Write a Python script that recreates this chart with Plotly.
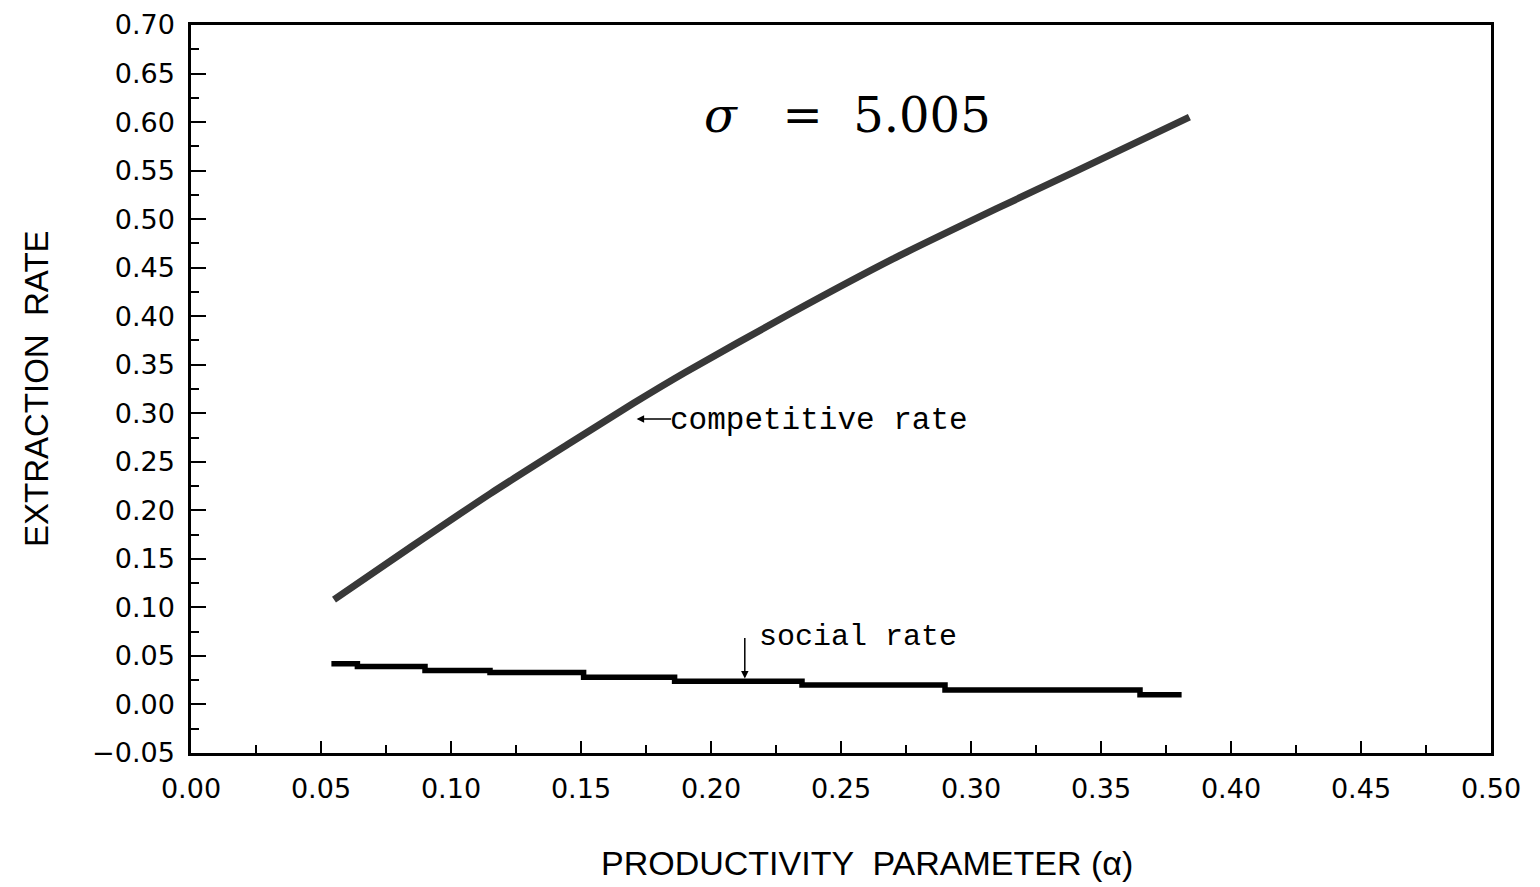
import plotly.graph_objects as go

# Competitive extraction rate
comp_alpha = [0.055, 0.085, 0.115, 0.145, 0.170, 0.190, 0.230, 0.270, 0.310, 0.340, 0.384]
comp_rate = [0.108, 0.163, 0.217, 0.268, 0.310, 0.342, 0.402, 0.459, 0.511, 0.549, 0.605]

# Social extraction rate (stepped)
social_alpha = [0.054, 0.064, 0.090, 0.115, 0.151, 0.186, 0.235, 0.290, 0.365, 0.381]
social_rate = [0.042, 0.039, 0.035, 0.033, 0.028, 0.024, 0.020, 0.015, 0.010, 0.010]

x_ticks = [0.00, 0.05, 0.10, 0.15, 0.20, 0.25, 0.30, 0.35, 0.40, 0.45, 0.50]
y_ticks = [-0.05, 0.00, 0.05, 0.10, 0.15, 0.20, 0.25, 0.30, 0.35, 0.40, 0.45, 0.50, 0.55, 0.60, 0.65, 0.70]

W, H = 1540, 887
OFF = 7  # page body offset
L, R, T, B = 190 - OFF, W - 1490 + OFF, 24 - OFF, H - 752 + OFF
pw, ph = W - L - R, H - T - B

fig = go.Figure()
fig.add_trace(go.Scatter(x=comp_alpha, y=comp_rate, mode="lines",
                         line=dict(color="#383838", width=7, shape="spline", smoothing=0.6),
                         showlegend=False, hoverinfo="skip"))
fig.add_trace(go.Scatter(x=social_alpha, y=social_rate, mode="lines",
                         line=dict(color="black", width=5.5, shape="hv"),
                         showlegend=False, hoverinfo="skip"))

tick_font = dict(family="DejaVu Sans", size=27, color="black")
axis_common = dict(showline=True, linecolor="black", linewidth=2.5, mirror=True,
                   showgrid=False, zeroline=False, ticks="inside",
                   tickcolor="black", tickwidth=2, tickformat=".2f",
                   tickfont=tick_font, automargin=False)

fig.update_xaxes(range=[0, 0.5], tickvals=x_ticks, ticklen=12, ticklabelstandoff=10,
                 minor=dict(dtick=0.025, tick0=0, ticks="inside", ticklen=8,
                            tickwidth=2, tickcolor="black", showgrid=False),
                 **axis_common)
fig.update_yaxes(range=[-0.05, 0.70], tickvals=y_ticks, ticklen=15, ticklabelstandoff=8,
                 minor=dict(dtick=0.025, tick0=0, ticks="inside", ticklen=8,
                            tickwidth=2, tickcolor="black", showgrid=False),
                 **axis_common)


def px_to_paper(px_x, px_y):
    return ((px_x - OFF - L) / pw, (H - B - (px_y - OFF)) / ph)


tx, ty = px_to_paper(866, 862)
fig.add_annotation(x=tx, y=ty, xref="paper", yref="paper", showarrow=False,
                   xanchor="center", yanchor="middle",
                   text="PRODUCTIVITY  PARAMETER (α)",
                   font=dict(family="Liberation Sans", size=34, color="black"))
tx, ty = px_to_paper(35, 388)
fig.add_annotation(x=tx, y=ty, xref="paper", yref="paper", showarrow=False,
                   xanchor="center", yanchor="middle",
                   text="EXTRACTION  RATE", textangle=-90,
                   font=dict(family="Liberation Sans", size=33, color="black"))

fig.add_annotation(x=0.2525, y=0.607, xref="x", yref="y", showarrow=False,
                   text="<i>σ</i>   =  5.005",
                   font=dict(family="DejaVu Serif", size=48, color="black"))
fig.add_annotation(x=0.1835, y=0.293, xref="x", yref="y", showarrow=False,
                   xanchor="left", yanchor="middle",
                   text="competitive rate",
                   font=dict(family="Liberation Mono", size=31, color="black"))
fig.add_annotation(x=0.1714, y=0.294, xref="x", yref="y", showarrow=True,
                   ax=36, ay=0, text="", arrowhead=2, arrowsize=1,
                   arrowwidth=1.5, arrowcolor="black")
fig.add_annotation(x=0.2176, y=0.070, xref="x", yref="y", showarrow=False,
                   xanchor="left", yanchor="middle",
                   text="social rate",
                   font=dict(family="Liberation Mono", size=30, color="black"))
fig.add_annotation(x=0.213, y=0.0267, xref="x", yref="y", showarrow=True,
                   ax=0, ay=-42, text="", arrowhead=2, arrowsize=1,
                   arrowwidth=1.5, arrowcolor="black")

fig.update_layout(width=W, height=H,
                  margin=dict(l=L, r=R, t=T, b=B),
                  paper_bgcolor="white", plot_bgcolor="white")

fig.write_html("out.html")
